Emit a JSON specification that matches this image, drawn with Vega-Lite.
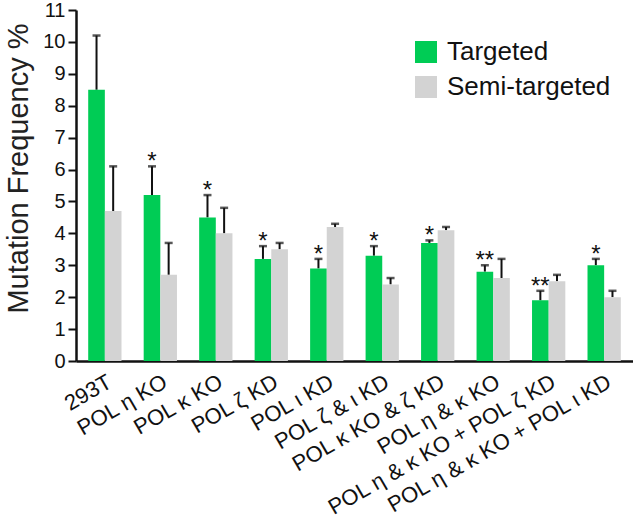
{
  "$schema": "https://vega.github.io/schema/vega-lite/v6.json",
  "autosize": {"type": "none"},
  "padding": {"left": 76, "top": 10, "right": 0, "bottom": 165},
  "width": 557,
  "height": 351,
  "background": "white",
  "config": {
    "font": "Liberation Sans",
    "view": {"stroke": null}
  },
  "data": {
    "values": [
      {"group": "293T", "series": "Targeted", "value": 8.5, "err": 10.2, "sig": ""},
      {"group": "293T", "series": "Semi-targeted", "value": 4.7, "err": 6.1, "sig": ""},
      {"group": "POL η KO", "series": "Targeted", "value": 5.2, "err": 6.1, "sig": "*"},
      {"group": "POL η KO", "series": "Semi-targeted", "value": 2.7, "err": 3.7, "sig": ""},
      {"group": "POL κ KO", "series": "Targeted", "value": 4.5, "err": 5.2, "sig": "*"},
      {"group": "POL κ KO", "series": "Semi-targeted", "value": 4.0, "err": 4.8, "sig": ""},
      {"group": "POL ζ KD", "series": "Targeted", "value": 3.2, "err": 3.6, "sig": "*"},
      {"group": "POL ζ KD", "series": "Semi-targeted", "value": 3.5, "err": 3.7, "sig": ""},
      {"group": "POL ι KD", "series": "Targeted", "value": 2.9, "err": 3.2, "sig": "*"},
      {"group": "POL ι KD", "series": "Semi-targeted", "value": 4.2, "err": 4.3, "sig": ""},
      {"group": "POL ζ & ι KD", "series": "Targeted", "value": 3.3, "err": 3.6, "sig": "*"},
      {"group": "POL ζ & ι KD", "series": "Semi-targeted", "value": 2.4, "err": 2.6, "sig": ""},
      {"group": "POL κ KO & ζ KD", "series": "Targeted", "value": 3.7, "err": 3.78, "sig": "*"},
      {"group": "POL κ KO & ζ KD", "series": "Semi-targeted", "value": 4.1, "err": 4.2, "sig": ""},
      {"group": "POL η & κ KO", "series": "Targeted", "value": 2.8, "err": 3.0, "sig": "**"},
      {"group": "POL η & κ KO", "series": "Semi-targeted", "value": 2.6, "err": 3.2, "sig": ""},
      {"group": "POL η & κ KO + POL ζ KD", "series": "Targeted", "value": 1.9, "err": 2.2, "sig": "**"},
      {"group": "POL η & κ KO + POL ζ KD", "series": "Semi-targeted", "value": 2.5, "err": 2.7, "sig": ""},
      {"group": "POL η & κ KO + POL ι KD", "series": "Targeted", "value": 3.0, "err": 3.2, "sig": "*"},
      {"group": "POL η & κ KO + POL ι KD", "series": "Semi-targeted", "value": 2.0, "err": 2.2, "sig": ""}
    ]
  },
  "encoding": {
    "x": {
      "field": "group", "type": "nominal", "sort": null,
      "scale": {"paddingInner": 0.4, "paddingOuter": 0.22},
      "axis": {
        "title": null, "labelAngle": -30, "labelFontSize": 22, "labelColor": "#111",
        "ticks": false, "domainColor": "#111", "domainWidth": 2.5, "labelPadding": 10,
        "labelDx": 4, "labelLimit": 400, "labelOverlap": false
      }
    },
    "xOffset": {"field": "series", "type": "nominal", "sort": ["Targeted", "Semi-targeted"], "scale": {"paddingInner": 0}},
    "y": {
      "field": "value", "type": "quantitative",
      "scale": {"domain": [0, 11], "nice": false},
      "axis": {
        "title": "Mutation Frequency %", "titleFontSize": 29, "titleFontWeight": "normal",
        "titleColor": "#222", "titleX": -49, "titleY": 158, "titleBaseline": "alphabetic",
        "values": [0,1,2,3,4,5,6,7,8,9,10,11], "labelOverlap": false,
        "labelFontSize": 20, "labelColor": "#111", "grid": false,
        "domainColor": "#111", "domainWidth": 2.5, "tickColor": "#111", "tickWidth": 2, "tickSize": 8,
        "labelPadding": 3
      }
    }
  },
  "layer": [
    {
      "mark": {"type": "rule", "color": "#111", "strokeWidth": 2},
      "encoding": {
        "y2": {"field": "err"}
      }
    },
    {
      "mark": {"type": "tick", "color": "#111", "thickness": 2.5, "size": 8},
      "encoding": {
        "y": {"field": "err", "type": "quantitative"}
      }
    },
    {
      "mark": {"type": "bar"},
      "encoding": {
        "color": {
          "field": "series", "type": "nominal", "sort": ["Targeted", "Semi-targeted"],
          "scale": {"domain": ["Targeted", "Semi-targeted"], "range": ["#00CC55", "#D3D3D3"]},
          "legend": {
            "title": null, "orient": "none", "legendX": 337, "legendY": 29,
            "symbolType": "square", "symbolSize": 484, "symbolStrokeWidth": 0, "symbolOpacity": 1,
            "labelFontSize": 26, "labelColor": "#111", "rowPadding": 9, "labelOffset": 8,
            "labelLimit": 300
          }
        }
      }
    },
    {
      "transform": [{"filter": "datum.sig != ''"}],
      "mark": {"type": "text", "fontSize": 24, "baseline": "alphabetic", "dy": 3, "color": "#111"},
      "encoding": {
        "y": {"field": "err", "type": "quantitative"},
        "text": {"field": "sig"}
      }
    }
  ]
}
